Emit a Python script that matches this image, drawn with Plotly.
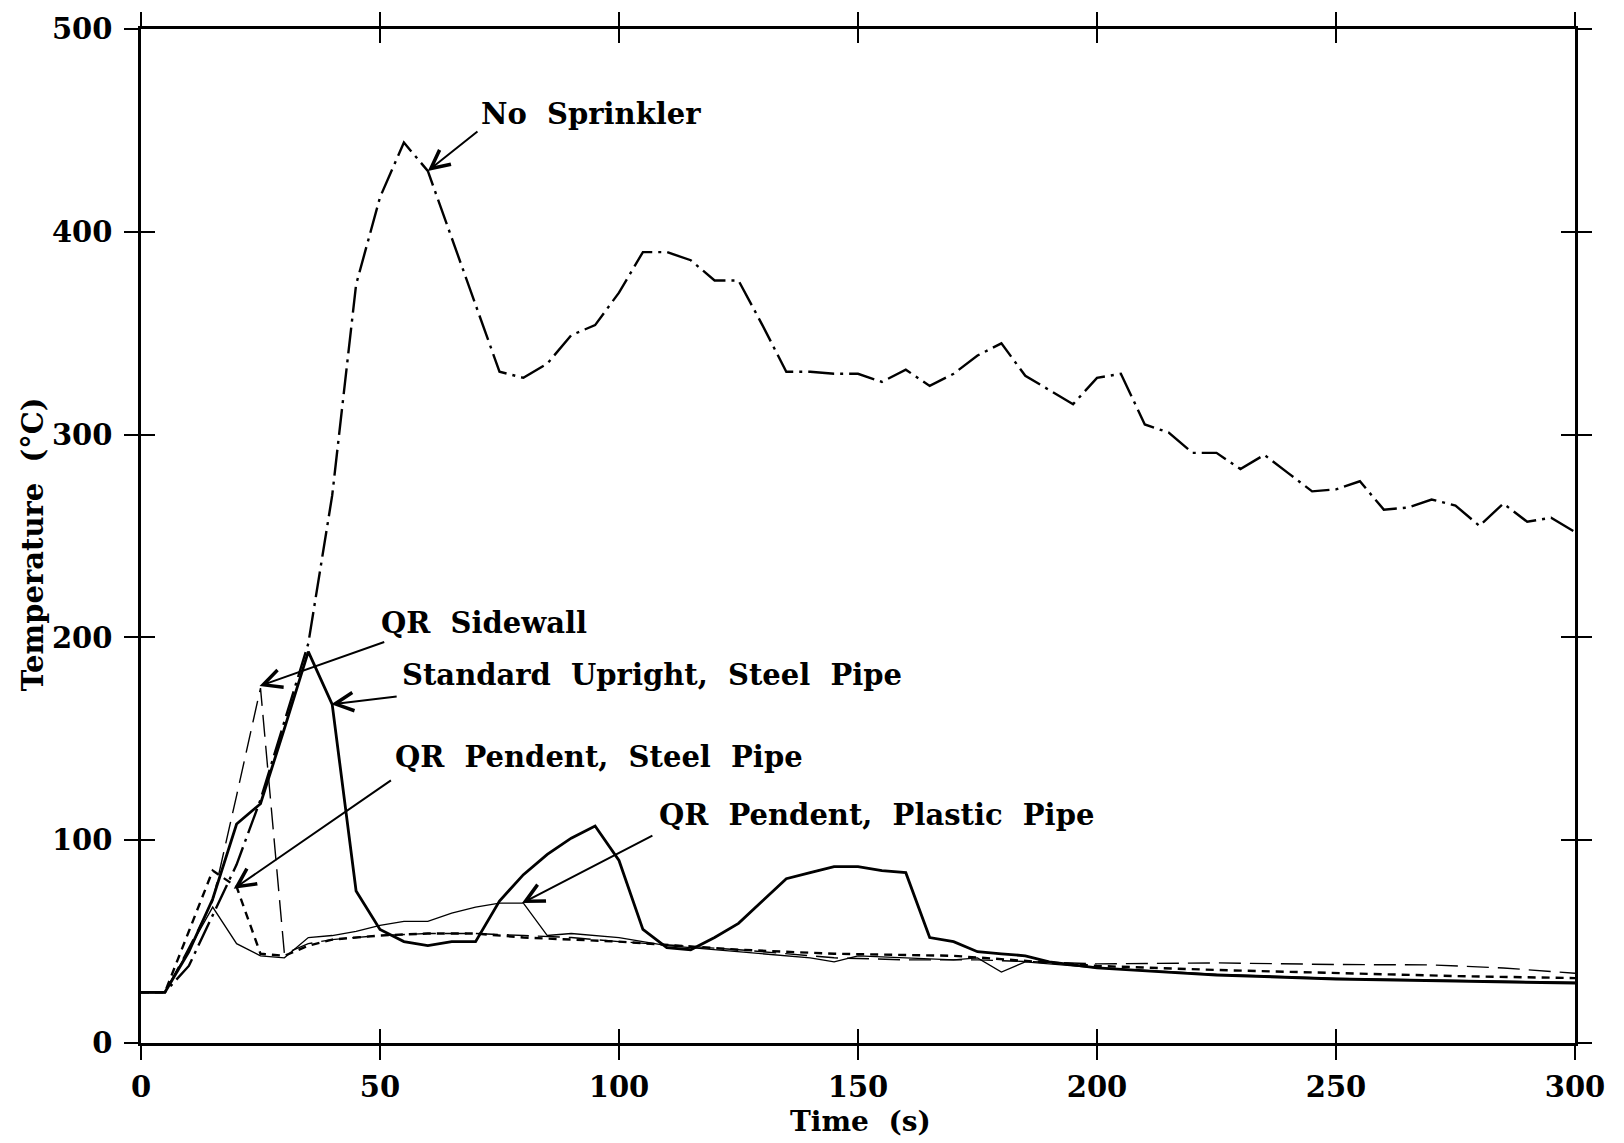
import plotly.graph_objects as go

# ---------------- data ----------------
time_5s = list(range(0, 301, 5))

no_sprinkler = [25, 25, 38, 63, 88, 120, 158, 197, 270, 374, 417, 444, 430, 397, 363,
                331, 328, 335, 349, 354, 370, 390, 390, 386, 376, 376, 354, 331, 331,
                330, 330, 326, 332, 324, 330, 339, 345, 329, 322, 315, 328, 330, 305,
                301, 291, 291, 283, 290, 281, 272, 273, 277, 263, 264, 268, 265, 255,
                266, 257, 259, 252]

std_time = [0, 5, 10, 15, 20, 25, 30, 35, 40, 45, 50, 55, 60, 65, 70, 75, 80, 85, 90,
            95, 100, 105, 110, 115, 120, 125, 130, 135, 140, 145, 150, 155, 160, 165,
            170, 175, 180, 185, 190, 200, 225, 250, 275, 300]
std_upright = [25, 25, 45, 71, 108, 118, 155, 193, 167, 75, 56, 50, 48, 50, 50, 70, 83,
               93, 101, 107, 90, 56, 47, 46, 52, 59, 70, 81, 84, 87, 87, 85, 84, 52, 50,
               45, 44, 43, 40, 37, 33.5, 31.5, 30.5, 29.5]

side_time = [0, 5, 10, 15, 20, 25, 30, 35, 40, 50, 60, 70, 80, 90, 100, 125, 145, 160,
             175, 200, 225, 250, 270, 285, 300]
qr_sidewall = [25, 25, 47, 70, 122, 175, 44, 49, 51, 53, 54, 54, 53, 52, 50, 46, 42, 41,
               41, 39, 39.5, 38.7, 38.5, 37, 34.4]

pst_time = [0, 5, 10, 15, 20, 25, 30, 35, 40, 50, 60, 70, 80, 90, 100, 125, 145, 170,
            200, 225, 250, 275, 300]
qr_pend_steel = [25, 25, 55, 85, 77, 44, 43, 48, 51, 53, 54, 54, 52, 51, 50, 46, 44, 43,
                 38, 36, 34.5, 33, 32]

ppl_time = [0, 5, 10, 15, 20, 25, 30, 35, 40, 45, 50, 55, 60, 65, 70, 75, 80, 85, 90,
            95, 100, 110, 125, 140, 145, 150, 170, 175, 180, 185, 200, 225, 250, 275, 300]
qr_pend_plastic = [25, 25, 46, 67, 49, 43, 42, 52, 53, 55, 58, 60, 60, 64, 67, 69, 69,
                   53, 54, 53, 52, 48, 45, 42, 40, 43, 41, 42, 35, 40, 37, 34, 32, 31, 30]

x_ticks = [0, 50, 100, 150, 200, 250, 300]
y_ticks = [0, 100, 200, 300, 400, 500]

# labels: (text, text x, text y, arrow tip x, tip y, arrow tail x, tail y)
labels = [
    ("No\u00a0 Sprinkler", 70.7, 458, 60, 430, 70.7, 450),
    ("QR\u00a0 Sidewall", 49.8, 207, 24.8, 176, 51.2, 198),
    ("Standard\u00a0 Upright,\u00a0 Steel\u00a0 Pipe", 54.1, 181.5, 39.8, 167, 53.8, 171),
    ("QR\u00a0 Pendent,\u00a0 Steel\u00a0 Pipe", 52.8, 141, 19.4, 76, 52.6, 130),
    ("QR\u00a0 Pendent,\u00a0 Plastic\u00a0 Pipe", 107.9, 112.5, 79.7, 69, 107.3, 102.6),
]

FONT = "DejaVu Serif"
FS = 29
fig = go.Figure()

fig.add_trace(go.Scatter(x=ppl_time, y=qr_pend_plastic, mode="lines",
                         line=dict(color="black", width=1.3)))
fig.add_trace(go.Scatter(x=side_time, y=qr_sidewall, mode="lines",
                         line=dict(color="black", width=1.4, dash="22px,9px")))
fig.add_trace(go.Scatter(x=pst_time, y=qr_pend_steel, mode="lines",
                         line=dict(color="black", width=2.4, dash="8px,6px")))
fig.add_trace(go.Scatter(x=time_5s, y=no_sprinkler, mode="lines",
                         line=dict(color="black", width=2.4, dash="26px,6px,3px,6px")))
fig.add_trace(go.Scatter(x=std_time, y=std_upright, mode="lines",
                         line=dict(color="black", width=2.8)))
# dummy trace for the overlay axes (inner half of the cross ticks)
fig.add_trace(go.Scatter(x=[], y=[], xaxis="x2", yaxis="y2", mode="lines",
                         hoverinfo="skip"))

for text, tx, ty, px, py, ax, ay in labels:
    fig.add_annotation(x=tx, y=ty, xref="x", yref="y", text=text, showarrow=False,
                       xanchor="left", yanchor="middle",
                       font=dict(family=FONT, size=FS, color="black", weight="bold"))
    fig.add_annotation(x=px, y=py, ax=ax, ay=ay, xref="x", yref="y", axref="x",
                       ayref="y", text="", showarrow=True, arrowhead=5,
                       arrowsize=1.8, arrowwidth=2, arrowcolor="black")

fig.add_annotation(x=0.5014, y=-0.077, xref="paper", yref="paper", text="Time\u00a0 (s)",
                   showarrow=False, xanchor="center", yanchor="middle",
                   font=dict(family=FONT, size=28, color="black", weight="bold"))
fig.add_annotation(x=-0.0753, y=0.492, xref="paper", yref="paper",
                   text="Temperature\u00a0 (°C)", textangle=-90,
                   showarrow=False, xanchor="center", yanchor="middle",
                   font=dict(family=FONT, size=FS, color="black", weight="bold"))

axis_common = dict(showgrid=False, zeroline=False, linecolor="black",
                   tickcolor="black", tickwidth=2, ticklen=14)
fig.update_layout(
    width=1624, height=1143,
    margin=dict(l=141, r=49, t=29, b=100),
    paper_bgcolor="white", plot_bgcolor="white",
    showlegend=False,
    font=dict(family=FONT, size=FS, color="black", weight="bold"),
    xaxis=dict(range=[0, 300], tickvals=x_ticks, ticks="outside", showline=True,
               linewidth=2.5, mirror="allticks", ticklabelstandoff=2,
               tickfont=dict(family=FONT, size=FS, weight="bold"), **axis_common),
    yaxis=dict(range=[0, 500], tickvals=y_ticks, ticks="outside", showline=True,
               linewidth=2.5, mirror="allticks", ticklabelstandoff=6,
               tickfont=dict(family=FONT, size=FS, weight="bold"), **axis_common),
    xaxis2=dict(range=[0, 300], tickvals=x_ticks, ticks="inside", overlaying="x",
                anchor="y2", showline=False, showticklabels=False, mirror="allticks",
                **axis_common),
    yaxis2=dict(range=[0, 500], tickvals=y_ticks, ticks="inside", overlaying="y",
                anchor="x2", showline=False, showticklabels=False, mirror="allticks",
                **axis_common),
)

fig.write_html("out.html")
